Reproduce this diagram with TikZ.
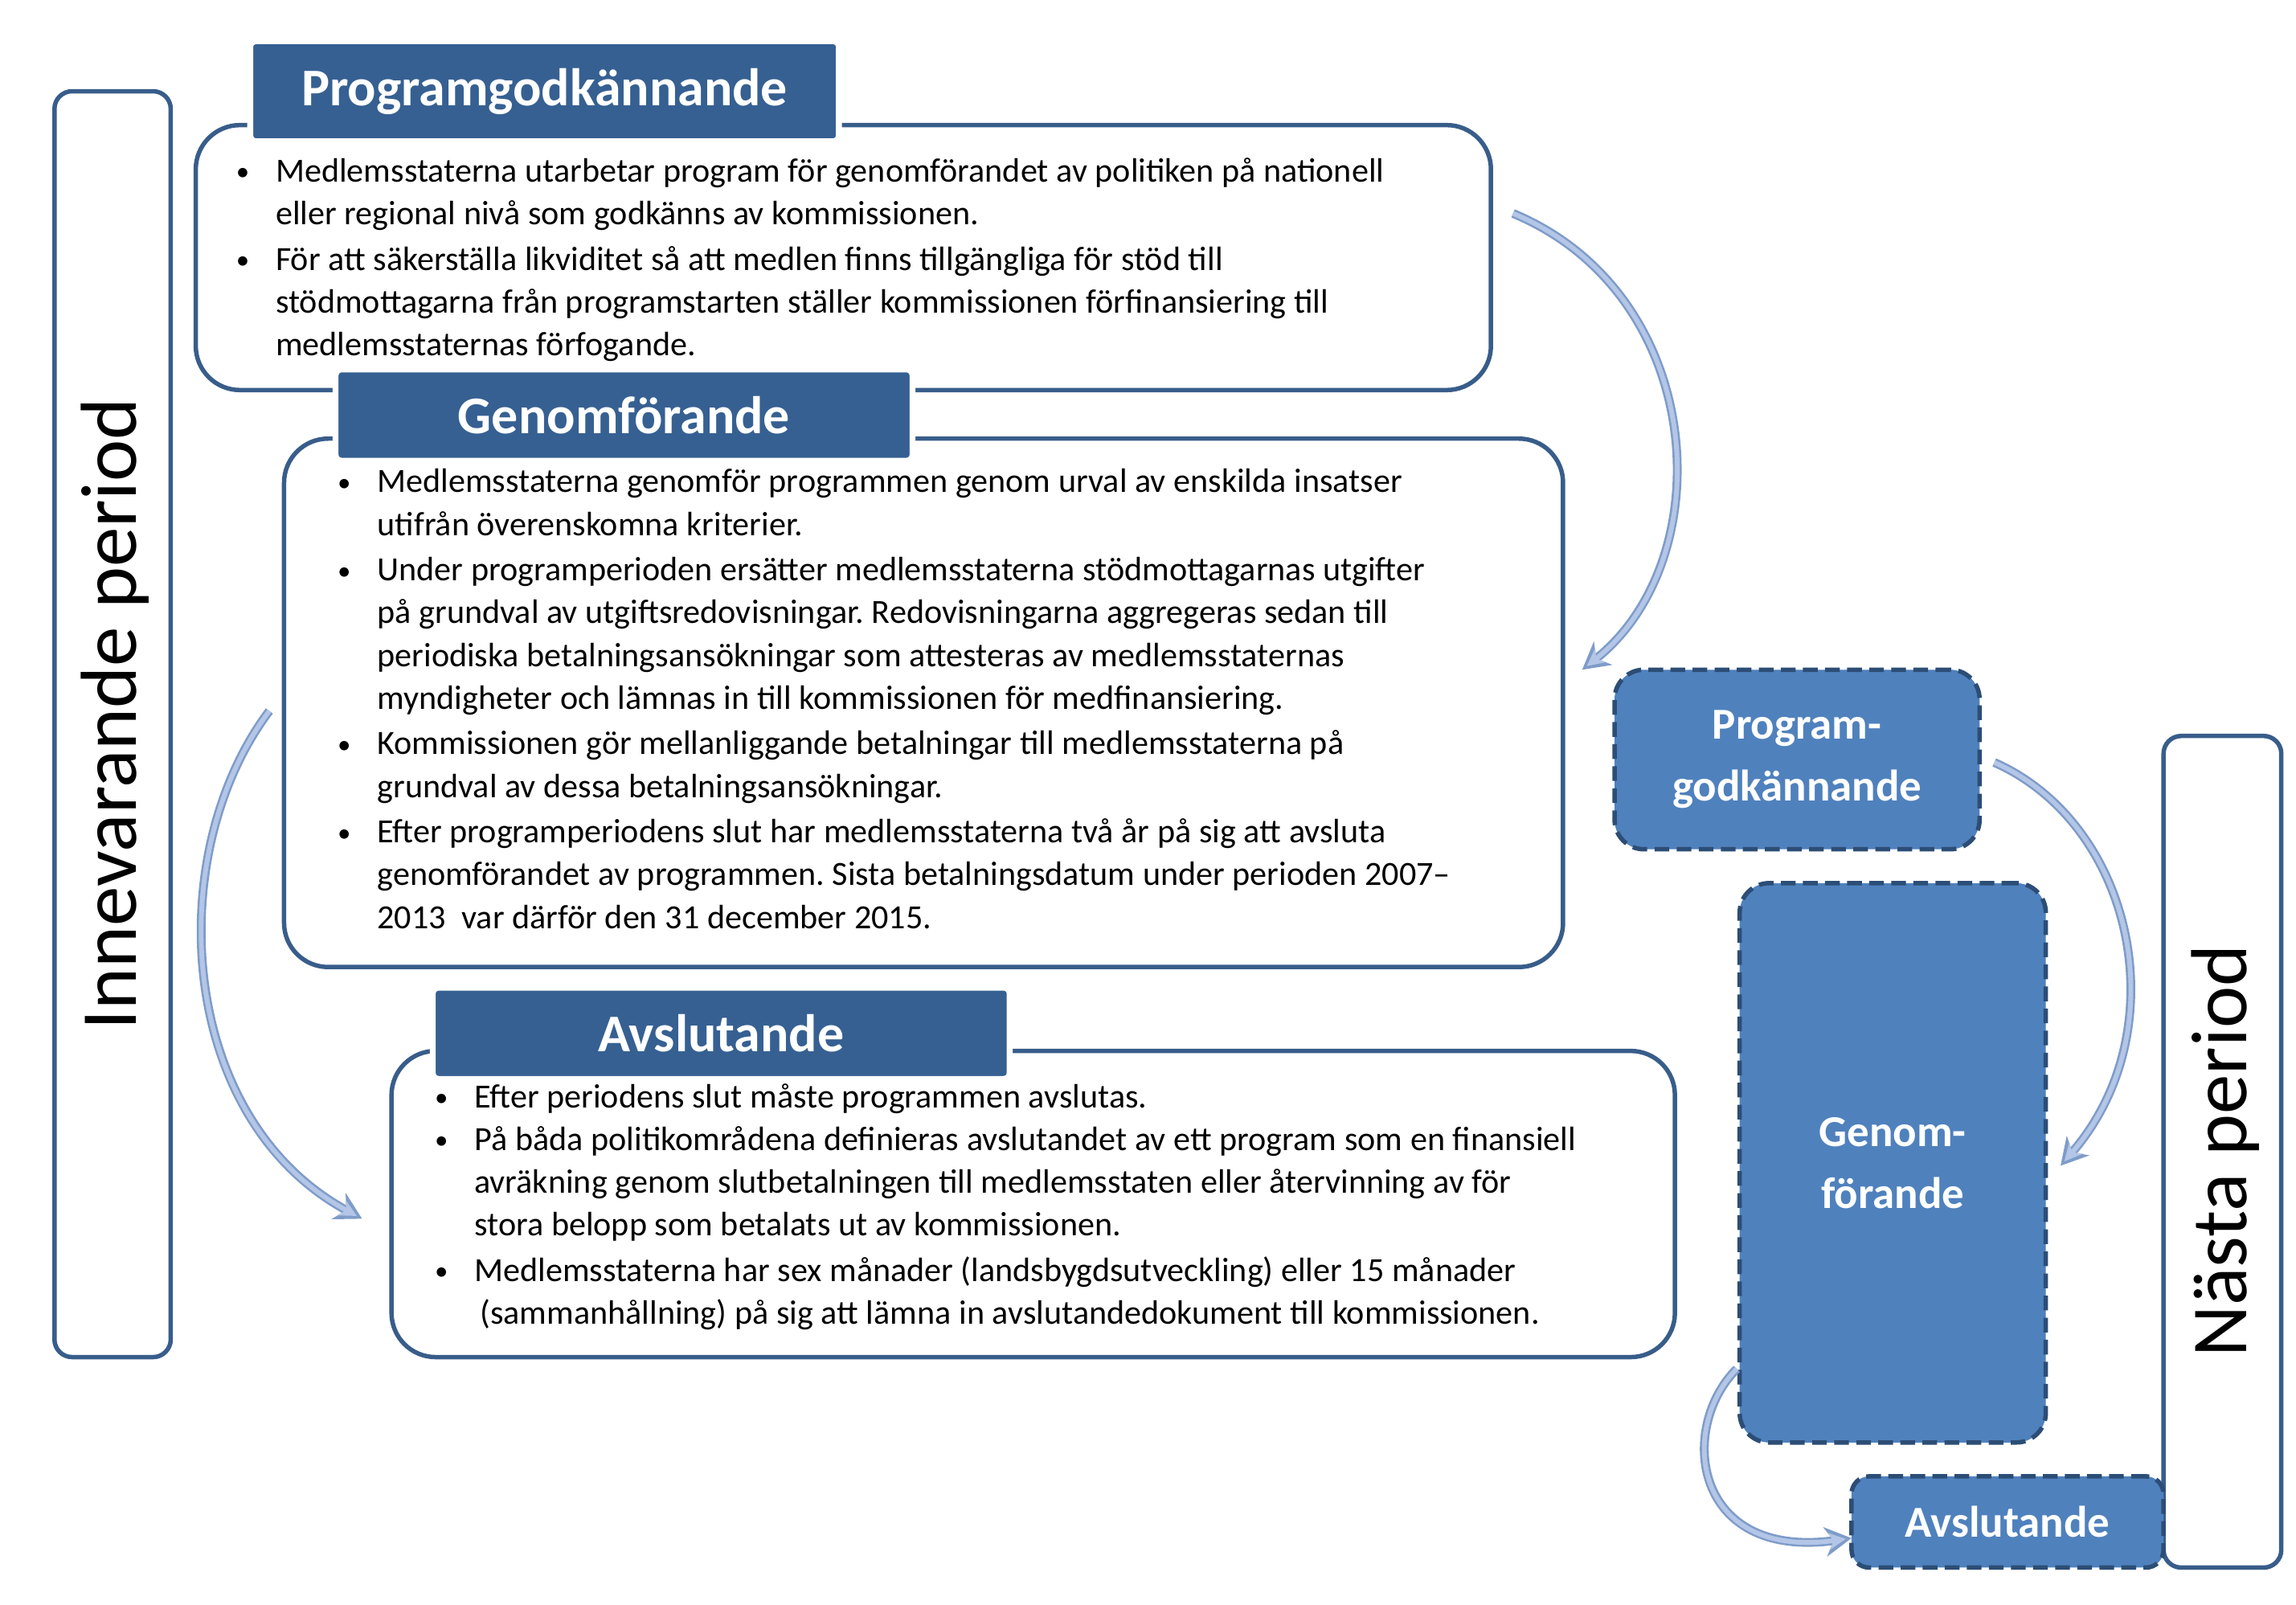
\documentclass[tikz,border=0pt]{standalone}
\usepackage{fontspec}
\setmainfont{Carlito}
\usetikzlibrary{arrows.meta}
\definecolor{tabblue}{HTML}{366092}
\definecolor{edgeblue}{HTML}{385D8A}
\definecolor{midblue}{HTML}{4F81BD}
\definecolor{darkedge}{HTML}{2C4D75}
\definecolor{arrlight}{HTML}{B3C6E7}
\definecolor{arrdark}{HTML}{7F9CC8}
\tikzset{
  bigbox/.style={draw=edgeblue,line width=1.5pt,rounded corners=15pt},
  tabbox/.style={fill=tabblue,draw=white,line width=2pt,rounded corners=2pt,text=white,font=\bfseries\fontsize{18}{20}\selectfont},
  sidebar/.style={draw=edgeblue,line width=1.5pt,rounded corners=6pt},
  nextbox/.style={fill=midblue,draw=darkedge,line width=1.5pt,dashed,dash pattern=on 5pt off 2.5pt,rounded corners=10pt,text=white,align=center,font=\bfseries\fontsize{15}{21}\selectfont},
  bodytext/.style={anchor=north west,inner sep=0pt,text width=520pt,font=\fontsize{11.5}{14.5}\selectfont},
  flowarrow/.style={line width=3pt,draw=arrdark,-{Stealth[length=9pt,width=10pt]}},
  flowarrowin/.style={line width=1.6pt,draw=arrlight,-{Stealth[length=6pt,width=6pt]}},
  sidetext/.style={rotate=90,font=\fontsize{27}{30}\selectfont}
}
\newcommand{\bitem}[1]{\noindent\makebox[13.5pt][l]{\raisebox{0.5pt}{\small•}}\parbox[t]{505pt}{\frenchspacing\spaceskip=0.23em plus 0.1em minus 0.05em\raggedright\strut #1\strut}\par}
\begin{document}
\begin{tikzpicture}[x=0.5pt,y=-0.5pt]
\useasboundingbox (0,0) rectangle (1560,1090);
% side bars
\draw[sidebar] (37,62) rectangle (116,922);
\node[sidetext] (left) at (78,485) {Innevarande period};
\draw[sidebar] (1470,500) rectangle (1550,1065);
\node[sidetext] (right) at (1512,782) {Nästa period};
% box 1
\draw[bigbox] (133,85) rectangle (1013,265);
\node[tabbox,minimum width=200pt,minimum height=34pt] (t1) at (370,62) {Programgodkännande};
\node[bodytext] (b1) at (160,103) {
\bitem{Medlemsstaterna utarbetar program för genomförandet av politiken på nationell\\ eller regional nivå som godkänns av kommissionen.}
\bitem{För att säkerställa likviditet så att medlen finns tillgängliga för stöd till\\ stödmottagarna från programstarten ställer kommissionen förfinansiering till\\ medlemsstaternas förfogande.}};
% box 2
\draw[bigbox] (193,298) rectangle (1062,657);
\node[tabbox,minimum width=196pt,minimum height=31pt] (t2) at (424,282) {Genomförande};
\node[bodytext] (b2) at (229,314) {
\bitem{Medlemsstaterna genomför programmen genom urval av enskilda insatser\\ utifrån överenskomna kriterier.}
\bitem{Under programperioden ersätter medlemsstaterna stödmottagarnas utgifter\\ på grundval av utgiftsredovisningar. Redovisningarna aggregeras sedan till\\ periodiska betalningsansökningar som attesteras av medlemsstaternas\\ myndigheter och lämnas in till kommissionen för medfinansiering.}
\bitem{Kommissionen gör mellanliggande betalningar till medlemsstaterna på\\ grundval av dessa betalningsansökningar.}
\bitem{Efter programperiodens slut har medlemsstaterna två år på sig att avsluta\\ genomförandet av programmen. Sista betalningsdatum under perioden 2007–\\ 2013 ~var därför den 31 december 2015.}};
% box 3
\draw[bigbox] (266,714) rectangle (1138,922);
\node[tabbox,minimum width=196pt,minimum height=31pt] (t3) at (490,702) {Avslutande};
\node[bodytext] (b3) at (295,732) {
\bitem{Efter periodens slut måste programmen avslutas.}
\bitem{På båda politikområdena definieras avslutandet av ett program som en finansiell\\ avräkning genom slutbetalningen till medlemsstaten eller återvinning av för\\ stora belopp som betalats ut av kommissionen.}
\bitem{Medlemsstaterna har sex månader (landsbygdsutveckling) eller 15 månader\\ \,(sammanhållning) på sig att lämna in avslutandedokument till kommissionen.}};
% next period boxes
\node[nextbox,minimum width=124pt,minimum height=61pt] (n1) at (1221,516) {Program-\\godkännande};
\node[nextbox,minimum width=104pt,minimum height=190pt] (n2) at (1286,790) {Genom-\\förande};
\node[nextbox,minimum width=106pt,minimum height=31pt,rounded corners=6pt] (n3) at (1364,1034) {Avslutande};
% arrows
\coordinate (a1s) at (1028,145); \coordinate (a1e) at (1075,455);
\coordinate (a2s) at (183,483); \coordinate (a2e) at (246,828);
\coordinate (a3s) at (1355,518); \coordinate (a3e) at (1400,792);
\coordinate (a4s) at (1180,930); \coordinate (a4e) at (1258,1045);
\foreach \s/\e/\ca/\cb in {a1s/a1e/{(1160,200)}/{(1170,380)},a2s/a2e/{(110,580)}/{(120,760)},a3s/a3e/{(1450,560)}/{(1480,700)},a4s/a4e/{(1140,970)}/{(1150,1060)}}{
  \draw[flowarrow] (\s) .. controls \ca and \cb .. (\e);
  \draw[flowarrowin,shorten >=2pt] (\s) .. controls \ca and \cb .. (\e);
}
\end{tikzpicture}
\end{document}
